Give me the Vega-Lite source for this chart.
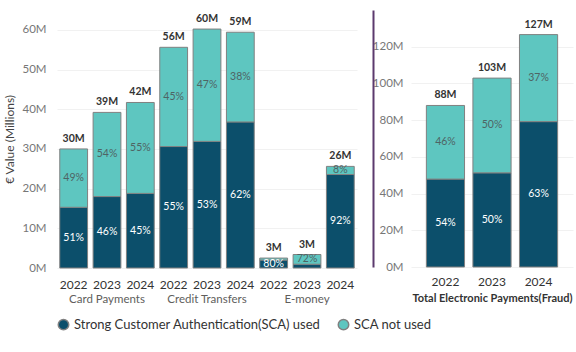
{
  "$schema": "https://vega.github.io/schema/vega-lite/v6.json",
  "padding": {"left": 3, "top": 10, "right": 2, "bottom": 0},
  "config": {
    "font": "Lato",
    "view": {"stroke": null},
    "axis": {"labelFont": "Lato", "titleFont": "Lato"},
    "header": {"labelFont": "Lato"},
    "legend": {"labelFont": "Lato"}
  },
  "datasets": {
    "cats": [
      {"cat": "Card Payments", "year": "2022", "auth": "Strong Customer Authentication(SCA) used", "ord": 1, "value": 15.3, "pct": 0.51},
      {"cat": "Card Payments", "year": "2022", "auth": "SCA not used", "ord": 2, "value": 14.7, "pct": 0.49},
      {"cat": "Card Payments", "year": "2023", "auth": "Strong Customer Authentication(SCA) used", "ord": 1, "value": 18.0, "pct": 0.46},
      {"cat": "Card Payments", "year": "2023", "auth": "SCA not used", "ord": 2, "value": 21.2, "pct": 0.54},
      {"cat": "Card Payments", "year": "2024", "auth": "Strong Customer Authentication(SCA) used", "ord": 1, "value": 18.8, "pct": 0.45},
      {"cat": "Card Payments", "year": "2024", "auth": "SCA not used", "ord": 2, "value": 22.9, "pct": 0.55},
      {"cat": "Credit Transfers", "year": "2022", "auth": "Strong Customer Authentication(SCA) used", "ord": 1, "value": 30.6, "pct": 0.55},
      {"cat": "Credit Transfers", "year": "2022", "auth": "SCA not used", "ord": 2, "value": 25.0, "pct": 0.45},
      {"cat": "Credit Transfers", "year": "2023", "auth": "Strong Customer Authentication(SCA) used", "ord": 1, "value": 31.9, "pct": 0.53},
      {"cat": "Credit Transfers", "year": "2023", "auth": "SCA not used", "ord": 2, "value": 28.3, "pct": 0.47},
      {"cat": "Credit Transfers", "year": "2024", "auth": "Strong Customer Authentication(SCA) used", "ord": 1, "value": 36.8, "pct": 0.62},
      {"cat": "Credit Transfers", "year": "2024", "auth": "SCA not used", "ord": 2, "value": 22.6, "pct": 0.38},
      {"cat": "E-money", "year": "2022", "auth": "Strong Customer Authentication(SCA) used", "ord": 1, "value": 2.0, "pct": 0.80},
      {"cat": "E-money", "year": "2022", "auth": "SCA not used", "ord": 2, "value": 0.5, "pct": 0.20},
      {"cat": "E-money", "year": "2023", "auth": "Strong Customer Authentication(SCA) used", "ord": 1, "value": 0.95, "pct": 0.28},
      {"cat": "E-money", "year": "2023", "auth": "SCA not used", "ord": 2, "value": 2.45, "pct": 0.72},
      {"cat": "E-money", "year": "2024", "auth": "Strong Customer Authentication(SCA) used", "ord": 1, "value": 23.55, "pct": 0.92},
      {"cat": "E-money", "year": "2024", "auth": "SCA not used", "ord": 2, "value": 2.05, "pct": 0.08}
    ],
    "tot": [
      {"year": "2022", "auth": "Strong Customer Authentication(SCA) used", "ord": 1, "value": 47.9, "pct": 0.54},
      {"year": "2022", "auth": "SCA not used", "ord": 2, "value": 40.1, "pct": 0.46},
      {"year": "2023", "auth": "Strong Customer Authentication(SCA) used", "ord": 1, "value": 51.3, "pct": 0.50},
      {"year": "2023", "auth": "SCA not used", "ord": 2, "value": 51.6, "pct": 0.50},
      {"year": "2024", "auth": "Strong Customer Authentication(SCA) used", "ord": 1, "value": 79.2, "pct": 0.63},
      {"year": "2024", "auth": "SCA not used", "ord": 2, "value": 47.4, "pct": 0.37}
    ]
  },
  "hconcat": [
    {
      "data": {"name": "cats"},
      "facet": {
        "column": {
          "field": "cat", "type": "nominal",
          "sort": ["Card Payments", "Credit Transfers", "E-money"],
          "header": {"labelOrient": "bottom", "title": null, "labelFontSize": 11.5, "labelColor": "#605e5c", "labelPadding": 4, "labelBaseline": "top"}
        }
      },
      "spacing": 0,
      "spec": {
        "width": 100,
        "height": 258,
        "transform": [
          {"stack": "value", "groupby": ["cat", "year"], "sort": [{"field": "ord"}], "as": ["v0", "v1"]},
          {"calculate": "(datum.v0 + datum.v1) / 2", "as": "vm"}
        ],
        "encoding": {
          "x": {
            "field": "year", "type": "nominal",
            "scale": {"paddingInner": 0.166, "paddingOuter": 0.083},
            "axis": {"title": null, "labelAngle": 0, "labelFontSize": 12, "labelColor": "#333333", "ticks": false, "domain": false, "labelPadding": 9}
          }
        },
        "layer": [
          {
            "mark": {"type": "bar", "stroke": "#808080", "strokeWidth": 1},
            "encoding": {
              "y": {
                "field": "v0", "type": "quantitative",
                "scale": {"domain": [0, 65], "nice": false},
                "axis": {
                  "title": "€ Value (Millions)", "titleFontSize": 12, "titleColor": "#444444", "titleFontWeight": "normal", "titlePadding": 5,
                  "values": [0, 10, 20, 30, 40, 50, 60], "labelExpr": "datum.value + 'M'",
                  "labelFontSize": 11.5, "labelColor": "#777777", "labelPadding": 11,
                  "domain": false, "ticks": false, "gridColor": "#f1f1f1"
                }
              },
              "y2": {"field": "v1"},
              "color": {
                "field": "auth", "type": "nominal",
                "scale": {"domain": ["Strong Customer Authentication(SCA) used", "SCA not used"], "range": ["#0c4f6b", "#5ec6c0"]},
                "legend": {"title": null, "orient": "bottom", "offset": 12, "symbolType": "circle", "symbolSize": 110, "symbolOpacity": 1, "labelFontSize": 13, "labelColor": "#333333", "columnPadding": 14, "labelLimit": 0}
              }
            }
          },
          {
            "transform": [{"filter": "datum.value >= 1.5"}],
            "mark": {"type": "text", "fontSize": 10.5, "baseline": "middle"},
            "encoding": {
              "y": {"field": "vm", "type": "quantitative"},
              "text": {"field": "pct", "type": "quantitative", "format": ".0%"},
              "color": {"condition": {"test": "datum.auth === 'SCA not used'", "value": "#4f6464"}, "value": "#ffffff"}
            }
          },
          {
            "transform": [
              {"aggregate": [{"op": "sum", "field": "value", "as": "total"}], "groupby": ["cat", "year"]},
              {"calculate": "format(datum.total, '.0f') + 'M'", "as": "lab"}
            ],
            "mark": {"type": "text", "fontSize": 10.5, "fontWeight": "bold", "baseline": "bottom", "dy": -5, "color": "#333333"},
            "encoding": {
              "y": {"field": "total", "type": "quantitative"},
              "text": {"field": "lab"}
            }
          }
        ]
      }
    },
    {
      "data": {"name": "tot"},
      "width": 162,
      "height": 257,
      "transform": [
        {"stack": "value", "groupby": ["year"], "sort": [{"field": "ord"}], "as": ["v0", "v1"]},
        {"calculate": "(datum.v0 + datum.v1) / 2", "as": "vm"}
      ],
      "encoding": {
        "x": {
          "field": "year", "type": "nominal",
          "scale": {"paddingInner": 0.18, "paddingOuter": 0.33},
          "axis": {"title": "Total Electronic Payments(Fraud)", "titleFontSize": 11, "titleFontWeight": "bold", "titleColor": "#333333", "titlePadding": 5,
                   "labelAngle": 0, "labelFontSize": 12, "labelColor": "#333333", "ticks": false, "domain": false, "labelPadding": 9}
        }
      },
      "layer": [
        {
          "mark": {"type": "bar", "stroke": "#808080", "strokeWidth": 1},
          "encoding": {
            "y": {
              "field": "v0", "type": "quantitative",
              "scale": {"domain": [0, 140], "nice": false},
              "axis": {
                "title": null, "values": [0, 20, 40, 60, 80, 100, 120], "labelExpr": "datum.value + 'M'",
                "labelFontSize": 11.5, "labelColor": "#777777", "offset": 38, "labelPadding": -30,
                "domain": true, "domainColor": "#5c3a6e", "domainWidth": 2, "ticks": false, "gridColor": "#f1f1f1"
              }
            },
            "y2": {"field": "v1"},
            "color": {"field": "auth", "type": "nominal"}
          }
        },
        {
          "mark": {"type": "text", "fontSize": 10.5, "baseline": "middle"},
          "encoding": {
            "y": {"field": "vm", "type": "quantitative"},
            "text": {"field": "pct", "type": "quantitative", "format": ".0%"},
            "color": {"condition": {"test": "datum.auth === 'SCA not used'", "value": "#4f6464"}, "value": "#ffffff"}
          }
        },
        {
          "transform": [
            {"aggregate": [{"op": "sum", "field": "value", "as": "total"}], "groupby": ["year"]},
            {"calculate": "format(datum.total, '.0f') + 'M'", "as": "lab"}
          ],
          "mark": {"type": "text", "fontSize": 10.5, "fontWeight": "bold", "baseline": "bottom", "dy": -5, "color": "#333333"},
          "encoding": {
            "y": {"field": "total", "type": "quantitative"},
            "text": {"field": "lab"}
          }
        }
      ]
    }
  ],
  "spacing": 15
}
